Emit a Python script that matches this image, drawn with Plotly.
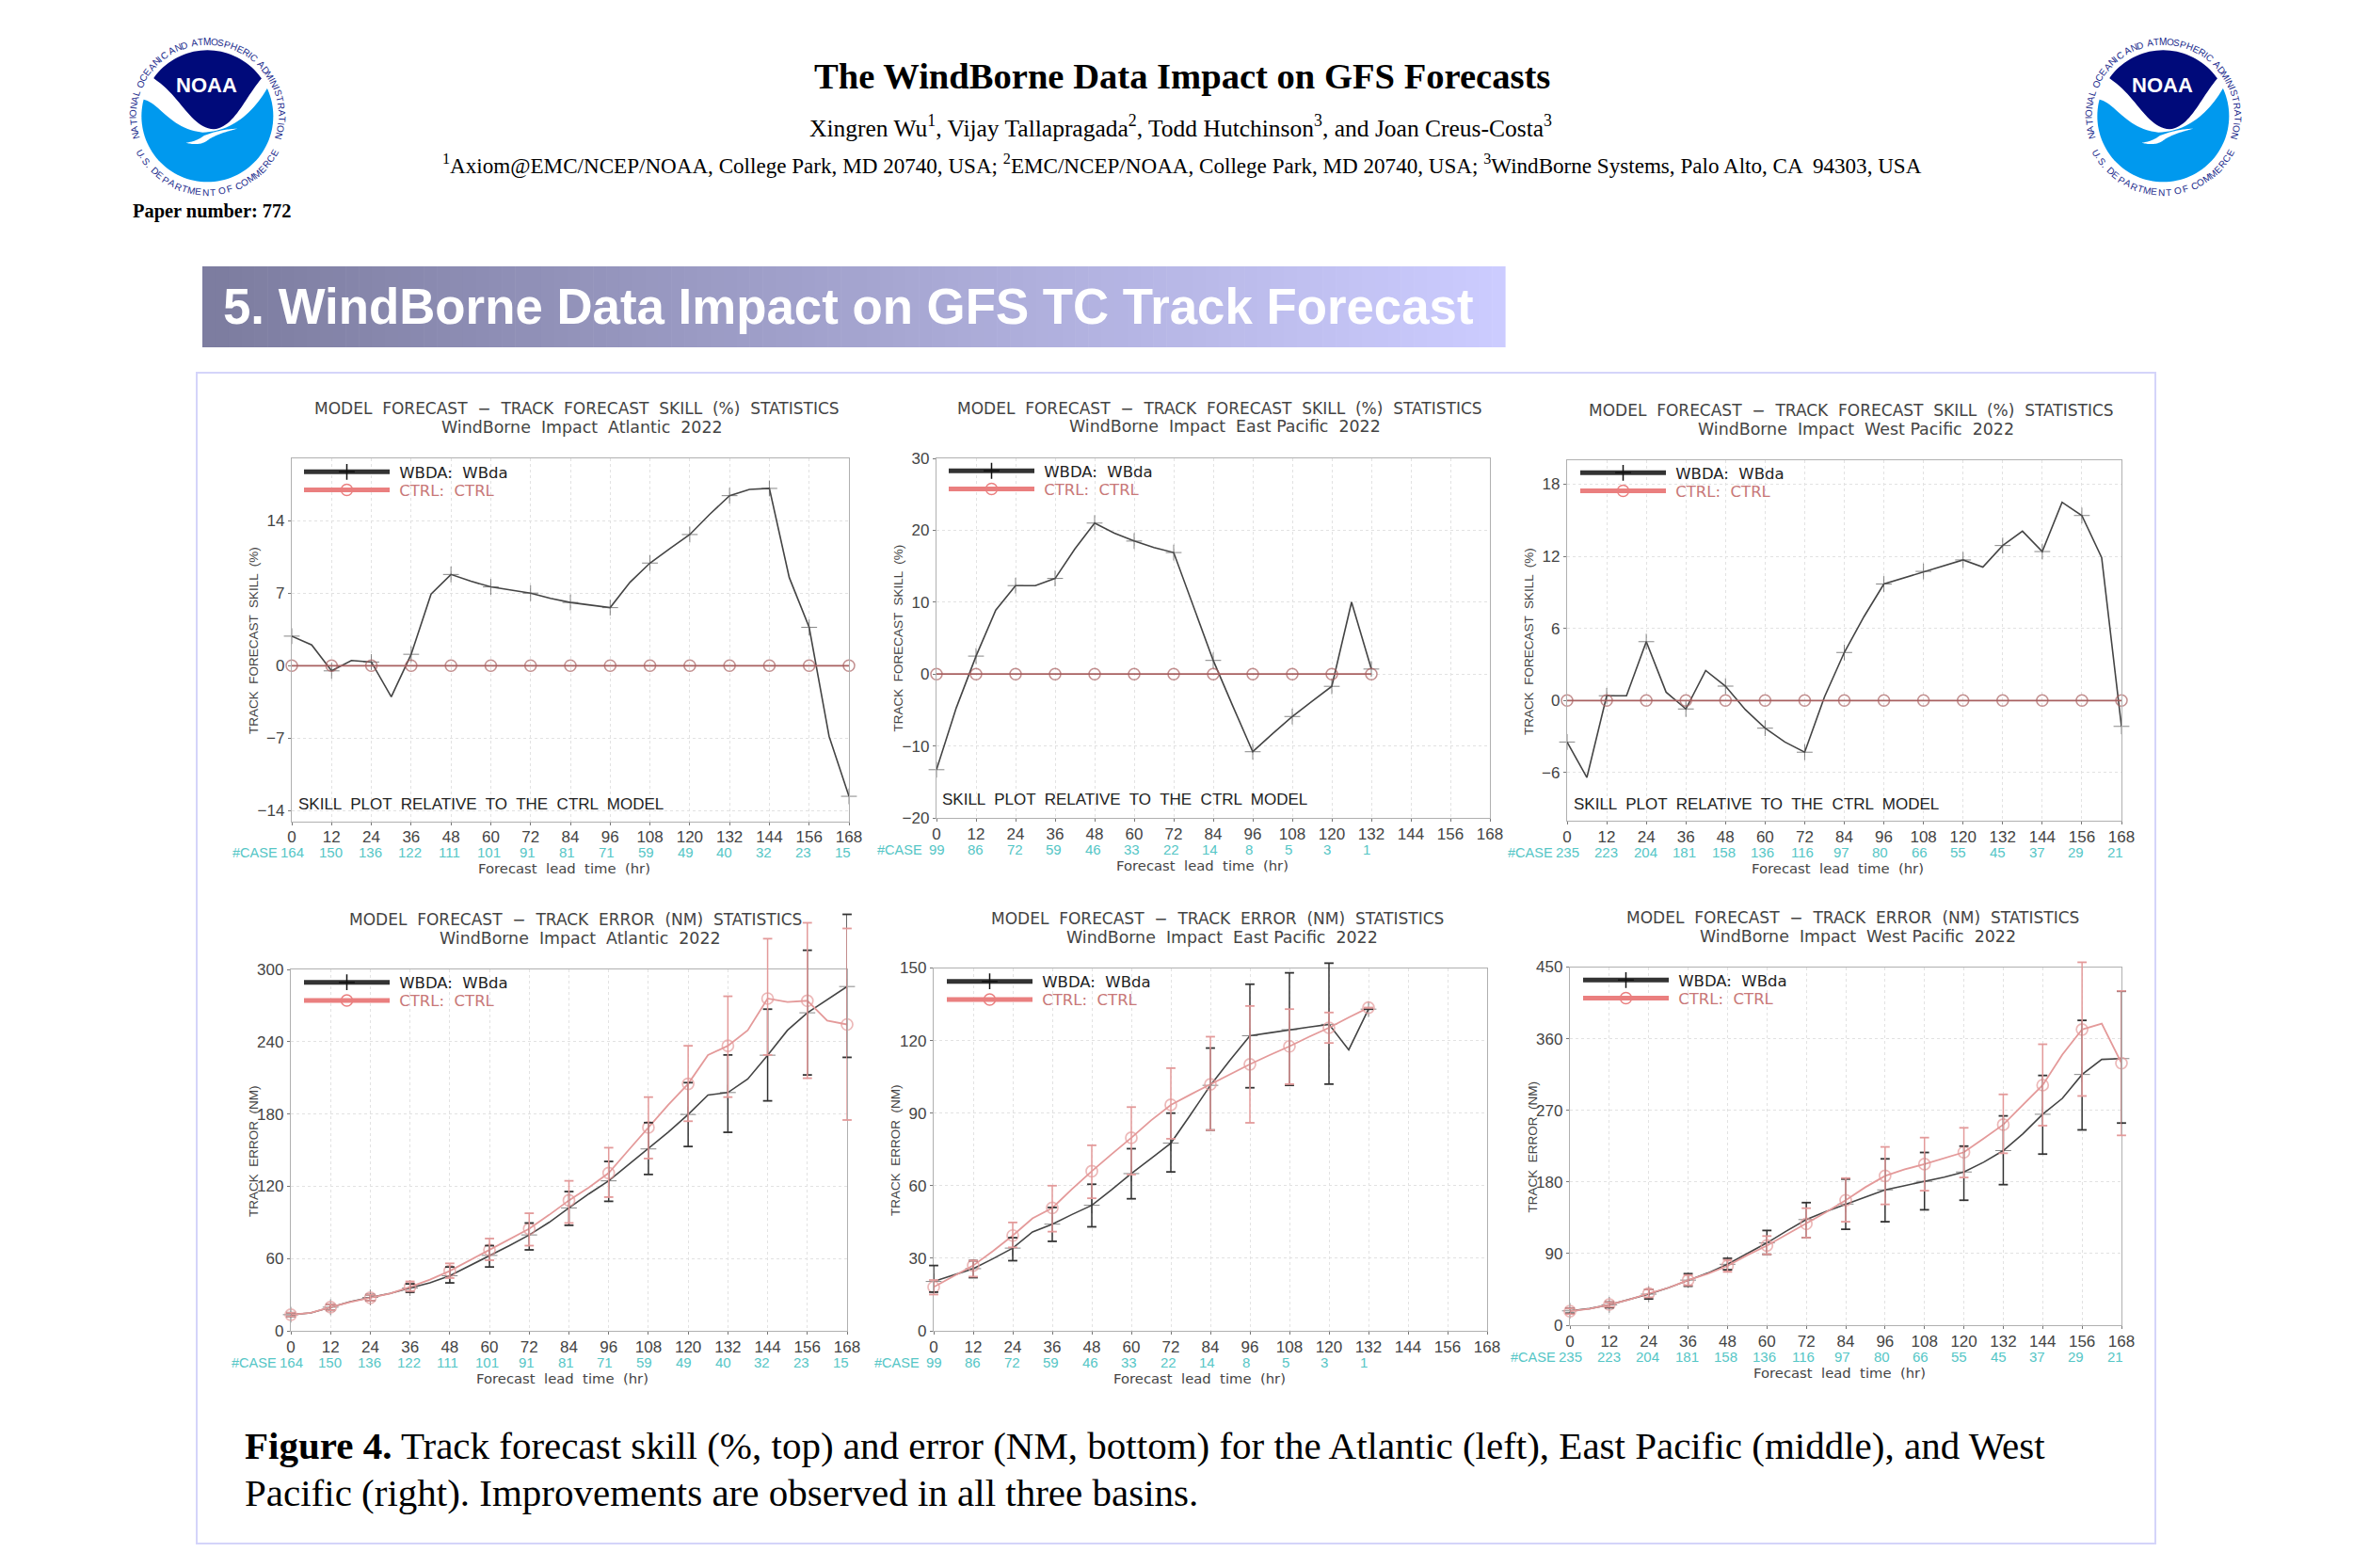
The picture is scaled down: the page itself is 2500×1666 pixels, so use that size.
import math
import plotly.graph_objects as go

# ---------- data ----------
LEADS = list(range(0, 174, 6))
TICK_LEADS = list(range(0, 180, 12))
EP_LEADS = list(range(0, 138, 6))

ATL_SKILL_WBDA = [2.85, 2.0, -0.5, 0.5, 0.35, -3.0, 1.1, 6.9, 8.8, 8.15, 7.6, 7.3, 7.0, 6.5, 6.1, 5.85, 5.6, 8.05, 9.9,
                  11.3, 12.65, 14.6, 16.4, 17.0, 17.1, 8.5, 3.7, -6.8, -12.6]
EP_SKILL_WBDA = [-13.3, -4.7, 2.5, 8.9, 12.3, 12.3, 13.3, 17.4, 21.0, 19.6, 18.5, 17.6, 16.9, 9.3, 1.9, -4.5, -10.8,
                 -8.3, -5.9, -3.8, -1.7, 10.0, 0.7]
WP_SKILL_WBDA = [-3.45, -6.4, 0.4, 0.4, 4.9, 0.7, -0.7, 2.5, 1.2, -0.75, -2.3, -3.45, -4.3, 0.3, 4.0, 7.0, 9.7, 10.2,
                 10.75, 11.2, 11.7, 11.1, 12.9, 14.1, 12.4, 16.5, 15.4, 11.9, -2.15]

ATL_ERR_WBDA = [13.4, 14.8, 19.6, 24.2, 27.7, 31.0, 35.5, 39.8, 45.7, 54.0, 62.6, 70.7, 79.6, 90.0, 102.0, 113.7, 124.5,
                138.0, 151.0, 165.0, 179.6, 195.7, 197.8, 209.0, 228.8, 249.5, 264.0, 275.0, 285.8]
ATL_ERR_CTRL = [13.4, 15.0, 19.6, 24.0, 27.4, 31.0, 36.5, 42.5, 49.7, 58.6, 67.2, 76.0, 84.7, 96.2, 108.3, 119.0, 131.0,
                150.0, 168.8, 187.6, 205.0, 229.0, 236.6, 249.5, 275.8, 273.0, 274.0, 257.5, 254.3]
ATL_WBDA_HI = [15, 22, 30, 39, 53, 70.7, 89.5, 115.6, 140.6, 172.8, 206, 229, 267, 315.9, 345.7]
ATL_WBDA_LO = [12, 17, 25, 32, 39.8, 53, 67.2, 87.6, 107.5, 129.8, 153, 164.8, 190.9, 212.4, 227]
ATL_CTRL_HI = [15, 22, 30, 41, 56, 76.6, 97.6, 124.5, 152, 194, 236.6, 277.7, 325.5, 338.7, 334]
ATL_CTRL_LO = [12, 17, 25, 33, 43.8, 58.6, 70.7, 89.5, 111, 143, 174, 194, 229, 209.7, 175]

EP_ERR_WBDA = [20.4, 23.0, 25.7, 29.8, 34.2, 40.9, 44.1, 48.1, 51.9, 58.3, 65.0, 71.3, 77.6, 89.4, 101.5, 112.0, 122.0,
               123.2, 124.5, 125.6, 126.7, 116.2, 133.0]
EP_ERR_CTRL = [18.1, 22.4, 27.0, 33.0, 39.4, 46.5, 50.8, 58.6, 66.0, 73.0, 79.8, 87.0, 93.4, 97.7, 101.9, 106.0, 110.2,
               114.0, 117.6, 121.6, 125.3, 129.6, 133.6]
EP_WBDA_HI = [27, 29, 38.5, 51, 60.6, 75.3, 90, 116.9, 143.3, 148, 152, 133]
EP_WBDA_LO = [16, 22, 29, 37, 43, 54.6, 65.7, 83, 100.5, 101.5, 102, 133]
EP_CTRL_HI = [21, 29, 44.8, 60, 76.7, 92.5, 108.6, 121.6, 134.3, 133, 131.6, 133.6]
EP_CTRL_LO = [15, 22.4, 34.5, 41, 54.8, 64.6, 79.4, 83, 86, 102, 119, 133.6]

WP_ERR_WBDA = [18.0, 20.8, 25.6, 32.0, 39.0, 47.0, 56.6, 65.5, 76.5, 90.0, 103.4, 118.4, 132.7, 142.9, 152.2, 161.0,
               170.0, 175.4, 180.7, 186.0, 192.5, 204.7, 219.4, 240.5, 265.0, 285.0, 315.0, 334.0, 335.0]
WP_ERR_CTRL = [17.5, 20.5, 26.0, 32.0, 39.9, 47.0, 56.6, 64.7, 74.5, 88.0, 100.0, 114.0, 127.4, 142.0, 157.0, 173.4,
               187.6, 195.8, 202.3, 210.0, 217.3, 234.4, 252.0, 277.0, 301.6, 340.0, 371.6, 379.0, 329.3]
WP_WBDA_HI = [21, 29, 45, 64.7, 84, 119, 154, 183.6, 209, 217, 225, 263, 313.8, 383, 419.6]
WP_WBDA_LO = [15, 22, 33, 49, 69.6, 89, 110, 120.5, 130, 145, 157, 176.6, 215, 245.4, 254]
WP_CTRL_HI = [21, 29, 45, 63, 82, 112, 147, 184.8, 224, 235.7, 248, 290, 353, 456, 420]
WP_CTRL_LO = [14, 23, 35, 50, 67, 89, 110, 130, 151.8, 169, 185.6, 216, 250.7, 288, 238.5]

ATL_CASES = [164, 150, 136, 122, 111, 101, 91, 81, 71, 59, 49, 40, 32, 23, 15]
EP_CASES = [99, 86, 72, 59, 46, 33, 22, 14, 8, 5, 3, 1]
WP_CASES = [235, 223, 204, 181, 158, 136, 116, 97, 80, 66, 55, 45, 37, 29, 21]

SKILL_TICKS_ATL = [-14, -7, 0, 7, 14]
SKILL_TICKS_EP = [-20, -10, 0, 10, 20, 30]
SKILL_TICKS_WP = [-6, 0, 6, 12, 18]
ERR_TICKS_ATL = [0, 60, 120, 180, 240, 300]
ERR_TICKS_EP = [0, 30, 60, 90, 120, 150]
ERR_TICKS_WP = [0, 90, 180, 270, 360, 450]

# ---------- helpers ----------
PAGE_W, PAGE_H, BODY = 2500, 1666, 8
W, H = PAGE_W - 2 * BODY, PAGE_H - 2 * BODY
SANS = "Liberation Sans"
WIDE = "DejaVu Sans"
SERIF = "Liberation Serif"
GREY = "#444444"
TEAL = "#55c6c6"
annotations, shapes = [], []


def px(x):
    return (x - BODY) / W


def py(y):
    return 1 - (y - BODY) / H


def text(x, y, s, size, color="#000000", family=SANS, angle=0, anchor="center", bold=False):
    annotations.append(dict(xref="paper", yref="paper", x=px(x), y=py(y), text=f"<b>{s}</b>" if bold else s,
                            showarrow=False, xanchor=anchor, yanchor="middle", textangle=angle,
                            font=dict(family=family, size=size, color=color), borderpad=0, borderwidth=0))


def path(points, fill):
    d = "M" + " L".join(f"{px(a):.5f},{py(b):.5f}" for a, b in points) + " Z"
    shapes.append(dict(type="path", xref="paper", yref="paper", path=d, fillcolor=fill,
                       line=dict(width=0), layer="above"))


def bez(p0, p1, p2, p3, n=24):
    out = []
    for i in range(n + 1):
        t = i / n
        u = 1 - t
        out.append((u**3 * p0[0] + 3 * u*u*t * p1[0] + 3 * u*t*t * p2[0] + t**3 * p3[0],
                    u**3 * p0[1] + 3 * u*u*t * p1[1] + 3 * u*t*t * p2[1] + t**3 * p3[1]))
    return out


def ring(cx, cy, s, r, a_start, a_end, top, size):
    widths = [0.32 if c in " I.," else 0.72 for c in s]
    total = sum(widths)
    acc = 0
    for c, w_ in zip(s, widths):
        f = (acc + w_ / 2) / total
        acc += w_
        a = a_start + (a_end - a_start) * f
        rad = math.radians(a)
        x = cx + r * math.sin(rad)
        y = cy - r * math.cos(rad)
        if c != " ":
            text(x, y, c, size, "#1a2a8c", SANS, angle=(a if top else a - 180))


def logo(dx):
    def z(a, b):
        return (100 + dx + a / 2.95, 20 + b / 3.0)

    cx, cy = z(355, 310)
    R = 70
    circle = [(cx + R * math.cos(math.radians(t)), cy + R * math.sin(math.radians(t))) for t in range(0, 360, 3)]
    path(circle, "#0099ee")
    lower = bez(z(146, 255), z(205, 262), z(235, 352), z(340, 362)) + bez(z(340, 362), z(430, 360), z(500, 300), z(548, 212))
    cap = [(cx + 72 * math.sin(math.radians(t)), cy - 72 * math.cos(math.radians(t))) for t in range(55, -80, -3)]
    path(lower + cap, "#ffffff")
    arc = [(cx + R * math.sin(math.radians(t)), cy - R * math.cos(math.radians(t))) for t in range(-54, 55, 3)]
    navy = arc + bez(z(525, 190), z(470, 255), z(440, 345), z(375, 352)) + bez(z(375, 352), z(300, 345), z(275, 250), z(187, 190))
    path(navy, "#000a7a")
    tail = bez(z(450, 350), z(410, 352), z(380, 358), z(345, 372)) + bez(z(345, 372), z(328, 385), z(310, 392), z(288, 395)) \
        + bez(z(288, 395), z(312, 402), z(340, 402), z(360, 384)) + bez(z(360, 384), z(385, 368), z(420, 358), z(450, 350))
    path(tail, "#ffffff")
    nx, ny = z(353, 213)
    text(nx, ny, "NOAA", 22, "#ffffff", SANS, bold=True)
    ring(cx, cy, "NATIONAL OCEANIC AND ATMOSPHERIC ADMINISTRATION", 79, -108, 108, True, 10)
    ring(cx, cy, "U.S. DEPARTMENT OF COMMERCE", 81, -116, -244, False, 10)


def whisker_arrays(leads, hi, lo):
    xs, ys = [], []
    for l in leads:
        if l % 12 == 0:
            i = l // 12
            xs += [l, l, None]
            ys += [lo[i], hi[i], None]
    return xs, ys


# ---------- header ----------
logo(0)
logo(2078)
text(1256, 81, "The WindBorne Data Impact on GFS Forecasts", 38.6, family=SERIF, bold=True)
text(1254, 134, "Xingren Wu<sup>1</sup>, Vijay Tallapragada<sup>2</sup>, Todd Hutchinson<sup>3</sup>, and Joan Creus-Costa<sup>3</sup>",
     25.5, family=SERIF)
text(1256, 175, "<sup>1</sup>Axiom@EMC/NCEP/NOAA, College Park, MD 20740, USA; <sup>2</sup>EMC/NCEP/NOAA, College Park, MD 20740, USA; "
     "<sup>3</sup>WindBorne Systems, Palo Alto, CA  94303, USA", 23.1, family=SERIF)
text(225, 225, "Paper number: 772", 20.4, family=SERIF, bold=True)

BX0, BX1, BY0, BY1 = 215, 1599, 283, 369
N = 100
for i in range(N):
    f = i / (N - 1)
    col = f"rgb({int(125 + 79 * f)},{int(125 + 79 * f)},{int(160 + 95 * f)})"
    shapes.append(dict(type="rect", xref="paper", yref="paper", layer="below",
                       x0=px(BX0 + (BX1 - BX0) * i / N), x1=px(BX0 + (BX1 - BX0) * (i + 1) / N + 0.6),
                       y0=py(BY1), y1=py(BY0), fillcolor=col, line=dict(width=0)))
text(237, 325, "5. WindBorne Data Impact on GFS TC Track Forecast", 52.8, "#ffffff", SANS, anchor="left", bold=True)

shapes.append(dict(type="rect", xref="paper", yref="paper", layer="below", x0=px(209), x1=px(2290), y0=py(1640), y1=py(396),
                   line=dict(color="#d4d4fa", width=2), fillcolor="rgba(0,0,0,0)"))

text(260, 1536, "<b>Figure 4.</b> Track forecast skill (%, top) and error (NM, bottom) for the Atlantic (left), East Pacific (middle), and West",
     41, family=SERIF, anchor="left")
text(260, 1586, "Pacific (right). Improvements are observed in all three basins.", 41, family=SERIF, anchor="left")

# ---------- panels ----------
PANELS = [
    dict(box=(310, 902, 487, 872.5), yr=(-15, 20), ticks=SKILL_TICKS_ATL, leads=LEADS, cases=ATL_CASES, wbda=ATL_SKILL_WBDA,
         kind="skill", basin="Atlantic", t=(613, 434.4, 618, 454), yt=(269, 681), skilltxt=(511, 854.5), leg=(323, 501.6), xt=-7),
    dict(box=(995, 1583, 487, 869), yr=(-20, 30), ticks=SKILL_TICKS_EP, leads=EP_LEADS, cases=EP_CASES, wbda=EP_SKILL_WBDA,
         kind="skill", basin="East Pacific", t=(1296, 434, 1301, 453), yt=(954.6, 678), skilltxt=(1195, 850), leg=(1008, 500.5), xt=-12),
    dict(box=(1665, 2254, 489, 872), yr=(-10, 20), ticks=SKILL_TICKS_WP, leads=LEADS, cases=WP_CASES, wbda=WP_SKILL_WBDA,
         kind="skill", basin="West Pacific", t=(1967, 436, 1972, 456), yt=(1624, 682), skilltxt=(1866, 854.5), leg=(1679, 502.6), xt=-7),
    dict(box=(309, 900, 1030, 1414), yr=(0, 300), ext=360, ticks=ERR_TICKS_ATL, leads=LEADS, cases=ATL_CASES, wbda=ATL_ERR_WBDA,
         ctrl=ATL_ERR_CTRL, bars=(ATL_WBDA_HI, ATL_WBDA_LO, ATL_CTRL_HI, ATL_CTRL_LO),
         kind="err", basin="Atlantic", t=(611.5, 977.5, 616.6, 997), yt=(269, 1223), leg=(323, 1044), xt=-7),
    dict(box=(992, 1580, 1028.5, 1414), yr=(0, 150), ext=160, ticks=ERR_TICKS_EP, leads=EP_LEADS, cases=EP_CASES, wbda=EP_ERR_WBDA,
         ctrl=EP_ERR_CTRL, bars=(EP_WBDA_HI, EP_WBDA_LO, EP_CTRL_HI, EP_CTRL_LO),
         kind="err", basin="East Pacific", t=(1293, 976, 1298, 995.5), yt=(951, 1222), leg=(1006, 1043), xt=-12),
    dict(box=(1668, 2254, 1027.5, 1408), yr=(0, 450), ext=470, ticks=ERR_TICKS_WP, leads=LEADS, cases=WP_CASES, wbda=WP_ERR_WBDA,
         ctrl=WP_ERR_CTRL, bars=(WP_WBDA_HI, WP_WBDA_LO, WP_CTRL_HI, WP_CTRL_LO),
         kind="err", basin="West Pacific", t=(1969, 975, 1974, 995), yt=(1628, 1218.5), leg=(1682, 1041.6), xt=-7),
]

fig = go.Figure()
layout_extra = {}

for idx, p in enumerate(PANELS):
    n = idx + 1
    xa, ya = ("x" if n == 1 else f"x{n}"), ("y" if n == 1 else f"y{n}")
    x0, x1, y0, y1 = p["box"]
    leads = p["leads"]
    axis_common = dict(showline=True, mirror=True, linecolor="#b0b0b0", linewidth=1.3, ticks="outside", ticklen=3,
                       tickcolor="#777777", tickwidth=1, showgrid=True, gridcolor="#e2e2e2", griddash="dot", gridwidth=1,
                       zeroline=False, tickfont=dict(family=SANS, size=17, color=GREY))
    layout_extra["xaxis" if n == 1 else f"xaxis{n}"] = dict(
        domain=[px(x0), px(x1)], range=[0, 168], tickvals=TICK_LEADS, anchor=ya, ticklabelstandoff=-2, **axis_common)
    layout_extra["yaxis" if n == 1 else f"yaxis{n}"] = dict(
        domain=[py(y1), py(y0)], range=list(p["yr"]), tickvals=p["ticks"], anchor=xa, **axis_common)

    sizes = [12 if l % 12 == 0 else 0 for l in leads]
    wb = p["wbda"]
    if p["kind"] == "err":
        # whiskers run past the top of the frame, so they sit on a hidden taller axis with the same scale
        m = n + 6
        top = y1 - (y1 - y0) * p["ext"] / p["yr"][1]
        layout_extra[f"xaxis{m}"] = dict(domain=[px(x0), px(x1)], range=[0, 168], visible=False, anchor=f"y{m}")
        layout_extra[f"yaxis{m}"] = dict(domain=[py(y1), py(top)], range=[0, p["ext"]], visible=False, anchor=f"x{m}")
        hi_w, lo_w, hi_c, lo_c = p["bars"]
        for hi, lo, col in ((hi_w, lo_w, "#333333"), (hi_c, lo_c, "#e39a9a")):
            bx, by = whisker_arrays(leads, hi, lo)
            fig.add_trace(go.Scatter(x=bx, y=by, xaxis=f"x{m}", yaxis=f"y{m}", mode="lines+markers", cliponaxis=False,
                                     showlegend=False, connectgaps=False, line=dict(color=col, width=1.5),
                                     marker=dict(symbol="line-ew-open", size=7, line=dict(color=col, width=1.8))))
        ct = p["ctrl"]
        ctrl_color, ring_color = "#e49a9a", "#d66f6f"
        ring_w = 1.7
    else:
        ct = [0 for _ in leads]
        ctrl_color, ring_color = "#a86060", "#f0b8b8"
        ring_w = 1.5

    fig.add_trace(go.Scatter(x=leads, y=wb, xaxis=xa, yaxis=ya, mode="lines+markers", cliponaxis=False, showlegend=False,
                             line=dict(color="#444444", width=1.6),
                             marker=dict(symbol="cross-thin", size=sizes, line=dict(color="#555555", width=1))))
    fig.add_trace(go.Scatter(x=leads, y=ct, xaxis=xa, yaxis=ya, mode="lines+markers", cliponaxis=False, showlegend=False,
                             line=dict(color=ctrl_color, width=1.8),
                             marker=dict(symbol="circle-open", size=sizes, line=dict(color=ring_color, width=ring_w))))

    # one single-entry legend per row, so the two rows can sit as close as in the reference
    for row, (nm, lc, mk, mc, fc) in enumerate((
            (" WBDA:  WBda", "#333333", "cross-thin", "#111111", "#222222"),
            (" CTRL:  CTRL", "#ea7f7f", "circle-open", "#d86060", "#c87878"))):
        k = 2 * idx + row + 1
        lname = "legend" if k == 1 else f"legend{k}"
        layout_extra[lname] = dict(x=px(p["leg"][0] - 5), y=py(p["leg"][1] + 19.2 * row), xanchor="left", yanchor="middle",
                                   bgcolor="rgba(0,0,0,0)", borderwidth=0, itemwidth=91, itemclick=False,
                                   font=dict(family=WIDE, size=16.5, color=fc))
        fig.add_trace(go.Scatter(x=[None], y=[None], xaxis=xa, yaxis=ya, legend=lname, name=nm, mode="lines+markers",
                                 showlegend=True, line=dict(color=lc, width=5),
                                 marker=dict(symbol=mk, size=12, line=dict(color=mc, width=1.5))))

    what = "TRACK  FORECAST  SKILL  (%)" if p["kind"] == "skill" else "TRACK  ERROR  (NM)"
    t = p["t"]
    text(t[0], t[1], f"MODEL  FORECAST  −  {what}  STATISTICS", 17, GREY, WIDE)
    text(t[2], t[3], f"WindBorne  Impact  {p['basin']}  2022", 17.4, GREY, WIDE)
    text(p["yt"][0], p["yt"][1], what, 13.5, GREY, angle=-90)
    if "skilltxt" in p:
        text(p["skilltxt"][0], p["skilltxt"][1], "SKILL  PLOT  RELATIVE  TO  THE  CTRL  MODEL", 17, "#222222")
    text((x0 + x1) / 2 + p["xt"], y1 + 50, "Forecast  lead  time  (hr)", 14.8, GREY, WIDE)
    text(x0 - 39, y1 + 33.5, "#CASE", 14.5, TEAL)
    for l, c in zip(TICK_LEADS, p["cases"]):
        annotations.append(dict(xref=xa, yref="paper", x=l, y=py(y1 + 33.5), text=str(c), showarrow=False,
                                xshift=-l * 0.04, yanchor="middle", xanchor="center",
                                font=dict(family=SANS, size=15, color=TEAL)))

fig.update_layout(width=W, height=H, margin=dict(l=0, r=0, t=0, b=0, pad=0, autoexpand=False),
                  paper_bgcolor="white", plot_bgcolor="rgba(0,0,0,0)",
                  annotations=annotations, shapes=shapes, **layout_extra)
fig.write_html("out.html", config=dict(displayModeBar=False, responsive=False))
